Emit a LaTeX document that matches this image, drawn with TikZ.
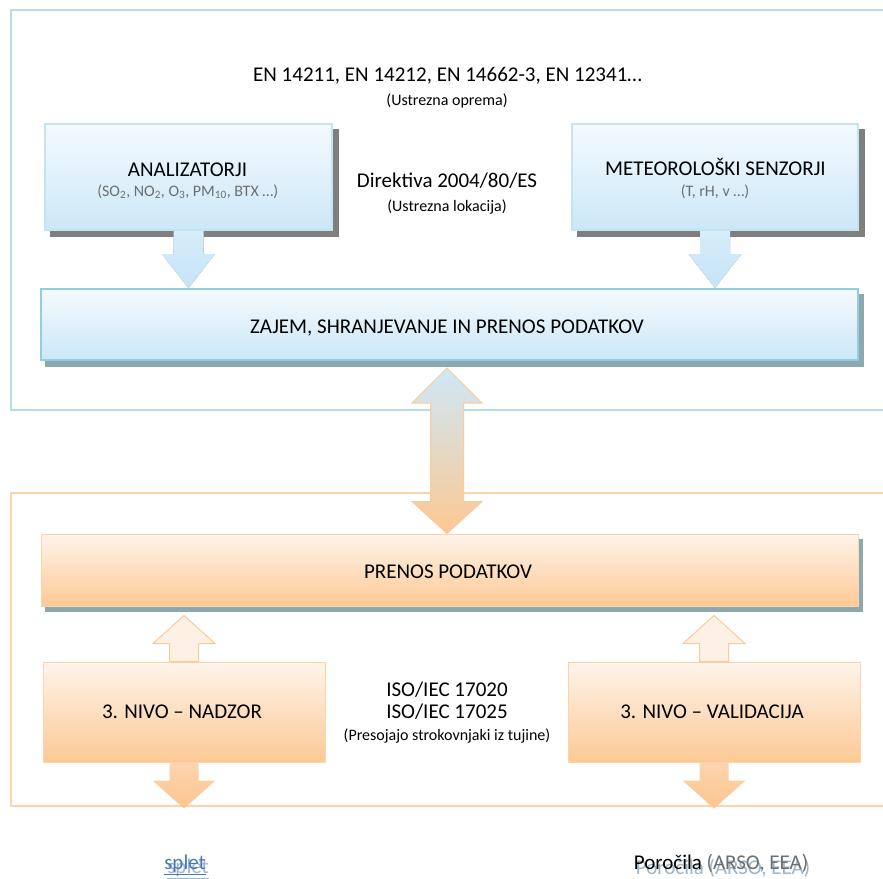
\documentclass[tikz,border=0pt]{standalone}
\usepackage{fontspec}
\setmainfont{Carlito}
\usetikzlibrary{calc,backgrounds}
\definecolor{bluetop}{HTML}{F5FAFE}
\definecolor{bluebot}{HTML}{CBE7F8}
\definecolor{blueline}{HTML}{C2E4F3}
\definecolor{zajline}{HTML}{8FCFDF}
\definecolor{frameblue}{HTML}{B7DCE6}
\definecolor{frameorange}{HTML}{FCD3AC}
\definecolor{orgtop}{HTML}{FEF4EB}
\definecolor{orgbot}{HTML}{FCC995}
\definecolor{orgline}{HTML}{FBD3AC}
\definecolor{darkshadow}{HTML}{7F7F7F}
\definecolor{blueshadow}{HTML}{8EA8B0}
\definecolor{paleorange}{HTML}{FDF1E6}
\definecolor{arrowline}{HTML}{FBCB9B}
\definecolor{arrtop}{HTML}{D6EDFA}
\definecolor{arrbot}{HTML}{C5E4F7}
\definecolor{dntop}{HTML}{FDD5AC}
\definecolor{dnbot}{HTML}{FBC590}
\definecolor{dbltop}{HTML}{CDE8F8}
\definecolor{dblbot}{HTML}{FDC892}
\definecolor{subgray}{HTML}{6E6E6E}
\definecolor{linkblue}{HTML}{4A77B8}
\definecolor{ghostblue}{HTML}{9DB6CA}
% #1 options, #2 start, #3 tip, #4 stem half width, #5 head half width, #6 signed head length
\newcommand\vblock[6]{\path[#1] let \p1=(#2), \p2=(#3), \n1={\y2+(#6pt)} in
  ({\x1-#4pt},{\y1}) -- ({\x1-#4pt},{\n1}) -- ({\x1-#5pt},{\n1}) -- (\x2,\y2)
  -- ({\x1+#5pt},{\n1}) -- ({\x1+#4pt},{\n1}) -- ({\x1+#4pt},{\y1}) -- cycle;}
\begin{document}
\begin{tikzpicture}[x=1pt,y=-1pt,
  bigf/.style={font=\fontsize{21}{25}\selectfont},
  smallf/.style={font=\fontsize{16}{19}\selectfont},
  bluebox/.style={draw=blueline, line width=2pt, top color=bluetop, bottom color=bluebot, inner sep=0pt},
  zajbox/.style={draw=zajline, line width=2pt, top color=bluetop, bottom color=bluebot, inner sep=0pt},
  orgbox/.style={draw=orgline, line width=1pt, top color=orgtop, bottom color=orgbot, inner sep=0pt},
  lbl/.style={anchor=base, inner sep=0pt, text=black},
  bluearrow/.style={top color=arrtop, bottom color=arrbot},
  uparrow/.style={fill=paleorange, draw=arrowline, line width=1pt},
  downarrow/.style={top color=dntop, bottom color=dnbot},
  dblarrow/.style={top color=dbltop, bottom color=dblbot, draw=arrowline, line width=1pt},
  shadowfill/.style={fill=darkshadow, shift={(5,5)}},
  frameA/.style={draw=frameblue, line width=1.2pt},
  frameB/.style={draw=frameorange, line width=1.2pt}]
\useasboundingbox (0,0) rectangle (883,878);

% frames
\draw[frameA] (883,10) -- (11,10) -- (11,410) -- (883,410);
\draw[frameB] (883,493) -- (11,493) -- (11,806) -- (883,806);

% boxes
\node[bluebox, minimum width=287, minimum height=106] (an) at (188.5,177) {};
\node[bluebox, minimum width=286, minimum height=106] (me) at (715,177) {};
\node[zajbox, minimum width=817, minimum height=71] (zaj) at (449.5,324.5) {};
\node[orgbox, minimum width=817, minimum height=72] (pre) at (449.5,570) {};
\node[orgbox, minimum width=282, minimum height=100] (nad) at (184,712) {};
\node[orgbox, minimum width=292, minimum height=100] (val) at (714,712) {};

% arrow end points
\coordinate (ta) at (an.south |- zaj.north);
\coordinate (tm) at (me.south |- zaj.north);
\coordinate (dt) at ($(zaj.south)+(-2.5,7)$);
\coordinate (db) at ($(pre.north)+(-2.5,0)$);
\coordinate (un) at ($(nad.north |- pre.south)+(0,9)$);
\coordinate (uv) at ($(val.north |- pre.south)+(0,9)$);
\coordinate (dn) at ($(nad.south)+(0,46)$);
\coordinate (dv) at ($(val.south)+(0,46)$);

% shadows
\begin{pgfonlayer}{background}
  \fill[white] (0,0) rectangle (883,878);
  \fill[darkshadow] ($(an.north west)+(6,6)$) rectangle ($(an.south east)+(6,6)$);
  \fill[darkshadow] ($(me.north west)+(6,6)$) rectangle ($(me.south east)+(6,6)$);
  \fill[blueshadow] ($(zaj.north west)+(5,6)$) rectangle ($(zaj.south east)+(5,6)$);
  \fill[blueshadow] ($(pre.north west)+(4,5)$) rectangle ($(pre.south east)+(4,5)$);
  \vblock{shadowfill}{an.south}{ta}{15}{26.5}{34}
  \vblock{shadowfill}{me.south}{tm}{15}{26.5}{34}
\end{pgfonlayer}

% block arrows
\vblock{bluearrow}{an.south}{ta}{15}{26.5}{34}
\vblock{bluearrow}{me.south}{tm}{15}{26.5}{34}
\path[dblarrow] let \p1=(dt), \p2=(db) in
  (\x1,\y1) -- (\x1+35pt,\y1-35pt) -- (\x1+16.5pt,\y1-35pt) -- (\x1+16.5pt,\y2+32pt)
  -- (\x1+35pt,\y2+32pt) -- (\x2,\y2) -- (\x1-35pt,\y2+32pt) -- (\x1-16.5pt,\y2+32pt)
  -- (\x1-16.5pt,\y1-35pt) -- (\x1-35pt,\y1-35pt) -- cycle;
\vblock{uparrow}{nad.north}{un}{14.5}{31}{-28}
\vblock{uparrow}{val.north}{uv}{14.5}{31}{-28}
\vblock{downarrow}{nad.south}{dn}{14.5}{31.5}{28}
\vblock{downarrow}{val.south}{dv}{14.5}{31.5}{28}

% texts
\node[lbl, bigf] (en) at (447.5,81) {EN 14211, EN 14212, EN 14662-3, EN 12341…};
\node[lbl, smallf] (op) at (447,105.5) {(Ustrezna oprema)};
\node[lbl, bigf] (dir) at (447,187.5) {Direktiva 2004/80/ES};
\node[lbl, smallf] (lok) at (447,211) {(Ustrezna lokacija)};
\node[lbl, bigf] (anT) at (187.5,176) {ANALIZATORJI};
\node[lbl, smallf, text=subgray] (anS) at (187.8,196) {(SO\textsubscript{2}, NO\textsubscript{2}, O\textsubscript{3}, PM\textsubscript{10}, BTX …)};
\node[lbl, bigf] (meT) at (715.5,175.5) {METEOROLOŠKI SENZORJI};
\node[lbl, smallf, text=subgray] (meS) at (715,196) {(T, rH, v …)};
\node[lbl, bigf] (zajT) at (447,333) {ZAJEM, SHRANJEVANJE IN PRENOS PODATKOV};
\node[lbl, bigf] (preT) at (448,578) {PRENOS PODATKOV};
\node[lbl, bigf] (nadT) at (182,718) {3. NIVO – NADZOR};
\node[lbl, bigf] (valT) at (712,718) {3. NIVO – VALIDACIJA};
\node[lbl, bigf] (iso1) at (447,696) {ISO/IEC 17020};
\node[lbl, bigf] (iso2) at (447,718) {ISO/IEC 17025};
\node[lbl, smallf] (pres) at (447,740) {(Presojajo strokovnjaki iz tujine)};

% bottom labels with ghost copies (as in the reference)
\node[lbl, bigf, text=ghostblue] (spletG) at (188,873) {\underline{splet}};
\node[lbl, bigf, text=linkblue] (splet) at (185,869) {\underline{splet}};
\node[lbl, bigf, text=ghostblue] (porG) at (723,874) {Poročila (ARSO, EEA)};
\node[lbl, bigf] (por) at (721,869) {Poročila \textcolor{subgray}{(ARSO, EEA)}};
\end{tikzpicture}
\end{document}
